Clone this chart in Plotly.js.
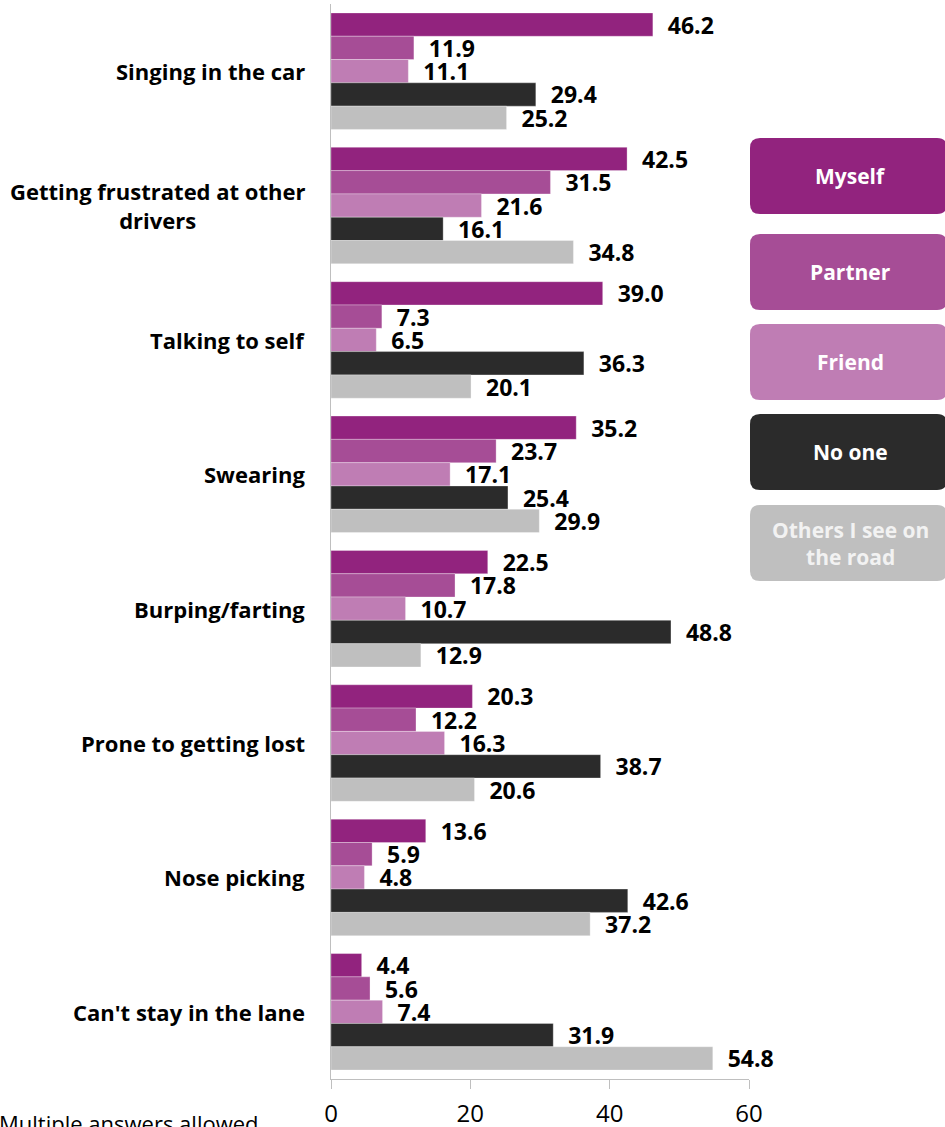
<!DOCTYPE html>
<html>
<head>
<meta charset="utf-8">
<script src="https://cdn.plot.ly/plotly-3.0.1.min.js"></script>
<style>html,body{margin:0;padding:0;background:#fff;}#chart{width:945px;height:1127px;}</style>
</head>
<body>
<div id="chart"></div>
<script>
const categories = ["Singing in the car", "Getting frustrated at other<br>drivers", "Talking to self", "Swearing", "Burping/farting", "Prone to getting lost", "Nose picking", "Can't stay in the lane"];
const seriesNames = ["Myself", "Partner", "Friend", "No one", "Others I see on the road"];
const legendLabels = ["Myself", "Partner", "Friend", "No one", "Others I see on<br>the road"];
const myself  = [46.2, 42.5, 39.0, 35.2, 22.5, 20.3, 13.6, 4.4];
const partner = [11.9, 31.5, 7.3, 23.7, 17.8, 12.2, 5.9, 5.6];
const friend  = [11.1, 21.6, 6.5, 17.1, 10.7, 16.3, 4.8, 7.4];
const noOne   = [29.4, 16.1, 36.3, 25.4, 48.8, 38.7, 42.6, 31.9];
const others  = [25.2, 34.8, 20.1, 29.9, 12.9, 20.6, 37.2, 54.8];
const xTicks = [0, 20, 40, 60];
const footnote = "Multiple answers allowed";

const seriesValues = [myself, partner, friend, noOne, others];
const colors = ["#92237E", "#A64D96", "#BF7DB4", "#2B2B2B", "#BFBFBF"];
const FONT = "'Open Sans', Lato, 'DejaVu Sans', sans-serif";

// plot geometry (pixels)
const W = 945, H = 1127;
const L = 331, R = 749, T = 4, B = 1079;
const px = x => (x - L) / (R - L);
const py = y => (B - y) / (B - T);

const traces = seriesValues.map((vals, i) => ({
  type: "bar",
  orientation: "h",
  name: seriesNames[i],
  y: categories,
  x: vals,
  marker: { color: colors[i], line: { color: "rgba(255,255,255,0.6)", width: 0.5 } },
  text: vals.map(v => "\u00a0\u00a0" + v.toFixed(1)),
  textposition: "outside",
  textfont: { family: FONT, size: 23, color: "#000", weight: 700 },
  constraintext: "none",
  cliponaxis: false,
  hoverinfo: "none"
}));

const annotations = categories.map(c => ({
  xref: "paper", yref: "y", x: px(307), y: c,
  xanchor: "right", yanchor: "middle", align: "center",
  text: c, showarrow: false,
  font: { family: FONT, size: 22, color: "#000", weight: 700 }
}));

// legend boxes
const boxTops = [138, 234, 324, 414, 505];
const boxH = 76, bx0 = 750, bx1 = 947, r = 10;
const shapes = [];
boxTops.forEach((t, i) => {
  const b = t + boxH;
  const rx = r / (R - L), ry = r / (B - T);
  const x0 = px(bx0), x1 = px(bx1), y0 = py(b), y1 = py(t);
  const path = `M ${x0 + rx} ${y1} L ${x1 - rx} ${y1} Q ${x1} ${y1} ${x1} ${y1 - ry} L ${x1} ${y0 + ry} Q ${x1} ${y0} ${x1 - rx} ${y0} L ${x0 + rx} ${y0} Q ${x0} ${y0} ${x0} ${y0 + ry} L ${x0} ${y1 - ry} Q ${x0} ${y1} ${x0 + rx} ${y1} Z`;
  shapes.push({ type: "path", xref: "paper", yref: "paper", path: path, fillcolor: colors[i], line: { width: 0 }, layer: "above" });
  annotations.push({
    xref: "paper", yref: "paper", x: px(850), y: py(t + boxH / 2),
    xanchor: "center", yanchor: "middle", align: "center",
    text: legendLabels[i], showarrow: false,
    font: { family: FONT, size: 21, color: i === 4 ? "#F2F2F2" : "#FFFFFF", weight: 700 }
  });
});

annotations.push({
  xref: "paper", yref: "paper", x: px(-3), y: py(1106),
  xanchor: "left", yanchor: "top", text: footnote, showarrow: false,
  font: { family: FONT, size: 22, color: "#000" }
});

const layout = {
  width: W, height: H,
  margin: { l: L, r: W - R, t: T, b: H - B, pad: 0 },
  paper_bgcolor: "#fff", plot_bgcolor: "#fff",
  barmode: "group", bargap: 0.133, bargroupgap: 0,
  showlegend: false,
  xaxis: {
    range: [0, 60], tickvals: xTicks, ticktext: xTicks.map(String),
    ticks: "outside", ticklen: 9, tickcolor: "#BFBFBF", tickwidth: 1,
    showline: true, linecolor: "#BFBFBF", linewidth: 1,
    showgrid: false, zeroline: false, ticklabelstandoff: 4,
    tickfont: { family: FONT, size: 24, color: "#000" }
  },
  yaxis: {
    type: "category", autorange: "reversed",
    showticklabels: false, ticks: "",
    showline: true, linecolor: "#BFBFBF", linewidth: 1,
    showgrid: false, zeroline: false
  },
  shapes: shapes,
  annotations: annotations,
  font: { family: FONT }
};

Plotly.newPlot("chart", traces, layout, { displayModeBar: false, staticPlot: true });
</script>
</body>
</html>
